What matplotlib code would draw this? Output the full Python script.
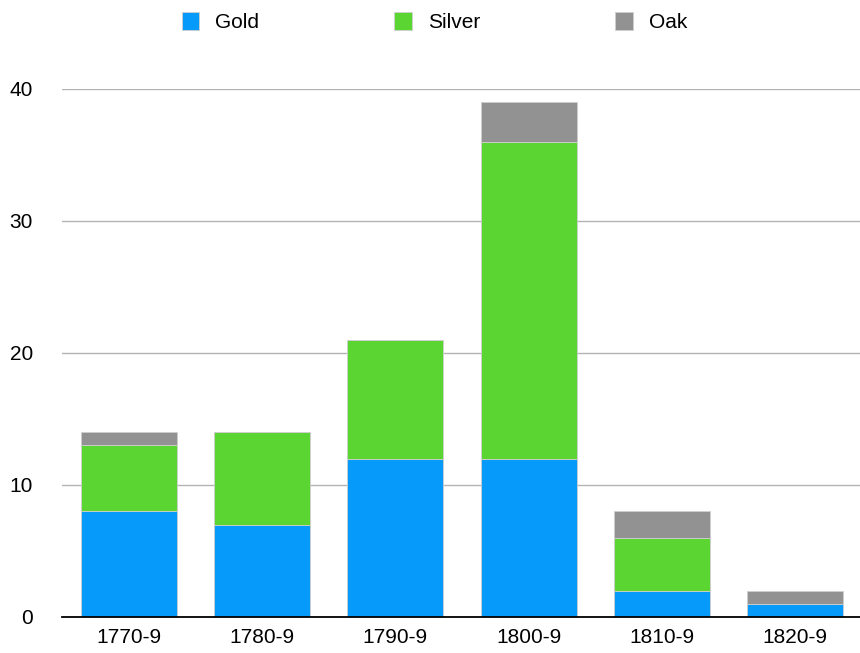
import matplotlib
matplotlib.use("Agg")
import matplotlib.pyplot as plt
import numpy as np

decades = ["1770-9", "1780-9", "1790-9", "1800-9", "1810-9", "1820-9"]
gold = [8, 7, 12, 12, 2, 1]
silver = [5, 7, 9, 24, 4, 0]
oak = [1, 0, 0, 3, 2, 1]

colors = {"Gold": "#069BFA", "Silver": "#5BD532", "Oak": "#929292"}

plt.rcParams["font.family"] = ["Liberation Sans", "DejaVu Sans"]

fig = plt.figure(figsize=(8.6, 6.53), dpi=100)
ax = fig.add_axes([62 / 860, 1 - 617 / 653, (862 - 62) / 860, (617 - 89) / 653])

x = np.arange(len(decades))
width = 0.72
bottom = np.zeros(len(decades))
for name, vals in (("Gold", gold), ("Silver", silver), ("Oak", oak)):
    vals = np.array(vals, dtype=float)
    ax.bar(x, vals, width, bottom=bottom, color=colors[name], label=name,
           edgecolor="#cfcfcf", linewidth=0.6, zorder=3)
    bottom += vals

ax.set_xlim(-0.5, len(decades) - 0.5)
ax.set_ylim(0, 40)
ax.set_yticks([0, 10, 20, 30, 40])
ax.set_xticks(x)
ax.set_xticklabels(decades)
ax.yaxis.grid(True, color="#b3b3b3", linewidth=1.0, zorder=0)
ax.set_axisbelow(True)
for s in ("top", "right", "left"):
    ax.spines[s].set_visible(False)
ax.spines["bottom"].set_color("black")
ax.spines["bottom"].set_linewidth(1.3)
ax.spines["bottom"].set_zorder(4)
ax.tick_params(axis="both", length=0, labelsize=15, colors="black")
ax.tick_params(axis="y", pad=21)
ax.tick_params(axis="x", pad=8)

fig.legend(loc="center", bbox_to_anchor=(0.505, 1 - 22 / 653), ncol=3,
           frameon=False, handlelength=0.85, handleheight=1.0,
           handletextpad=0.75, columnspacing=6.5, fontsize=15)

fig.savefig("out.png", dpi=100)
